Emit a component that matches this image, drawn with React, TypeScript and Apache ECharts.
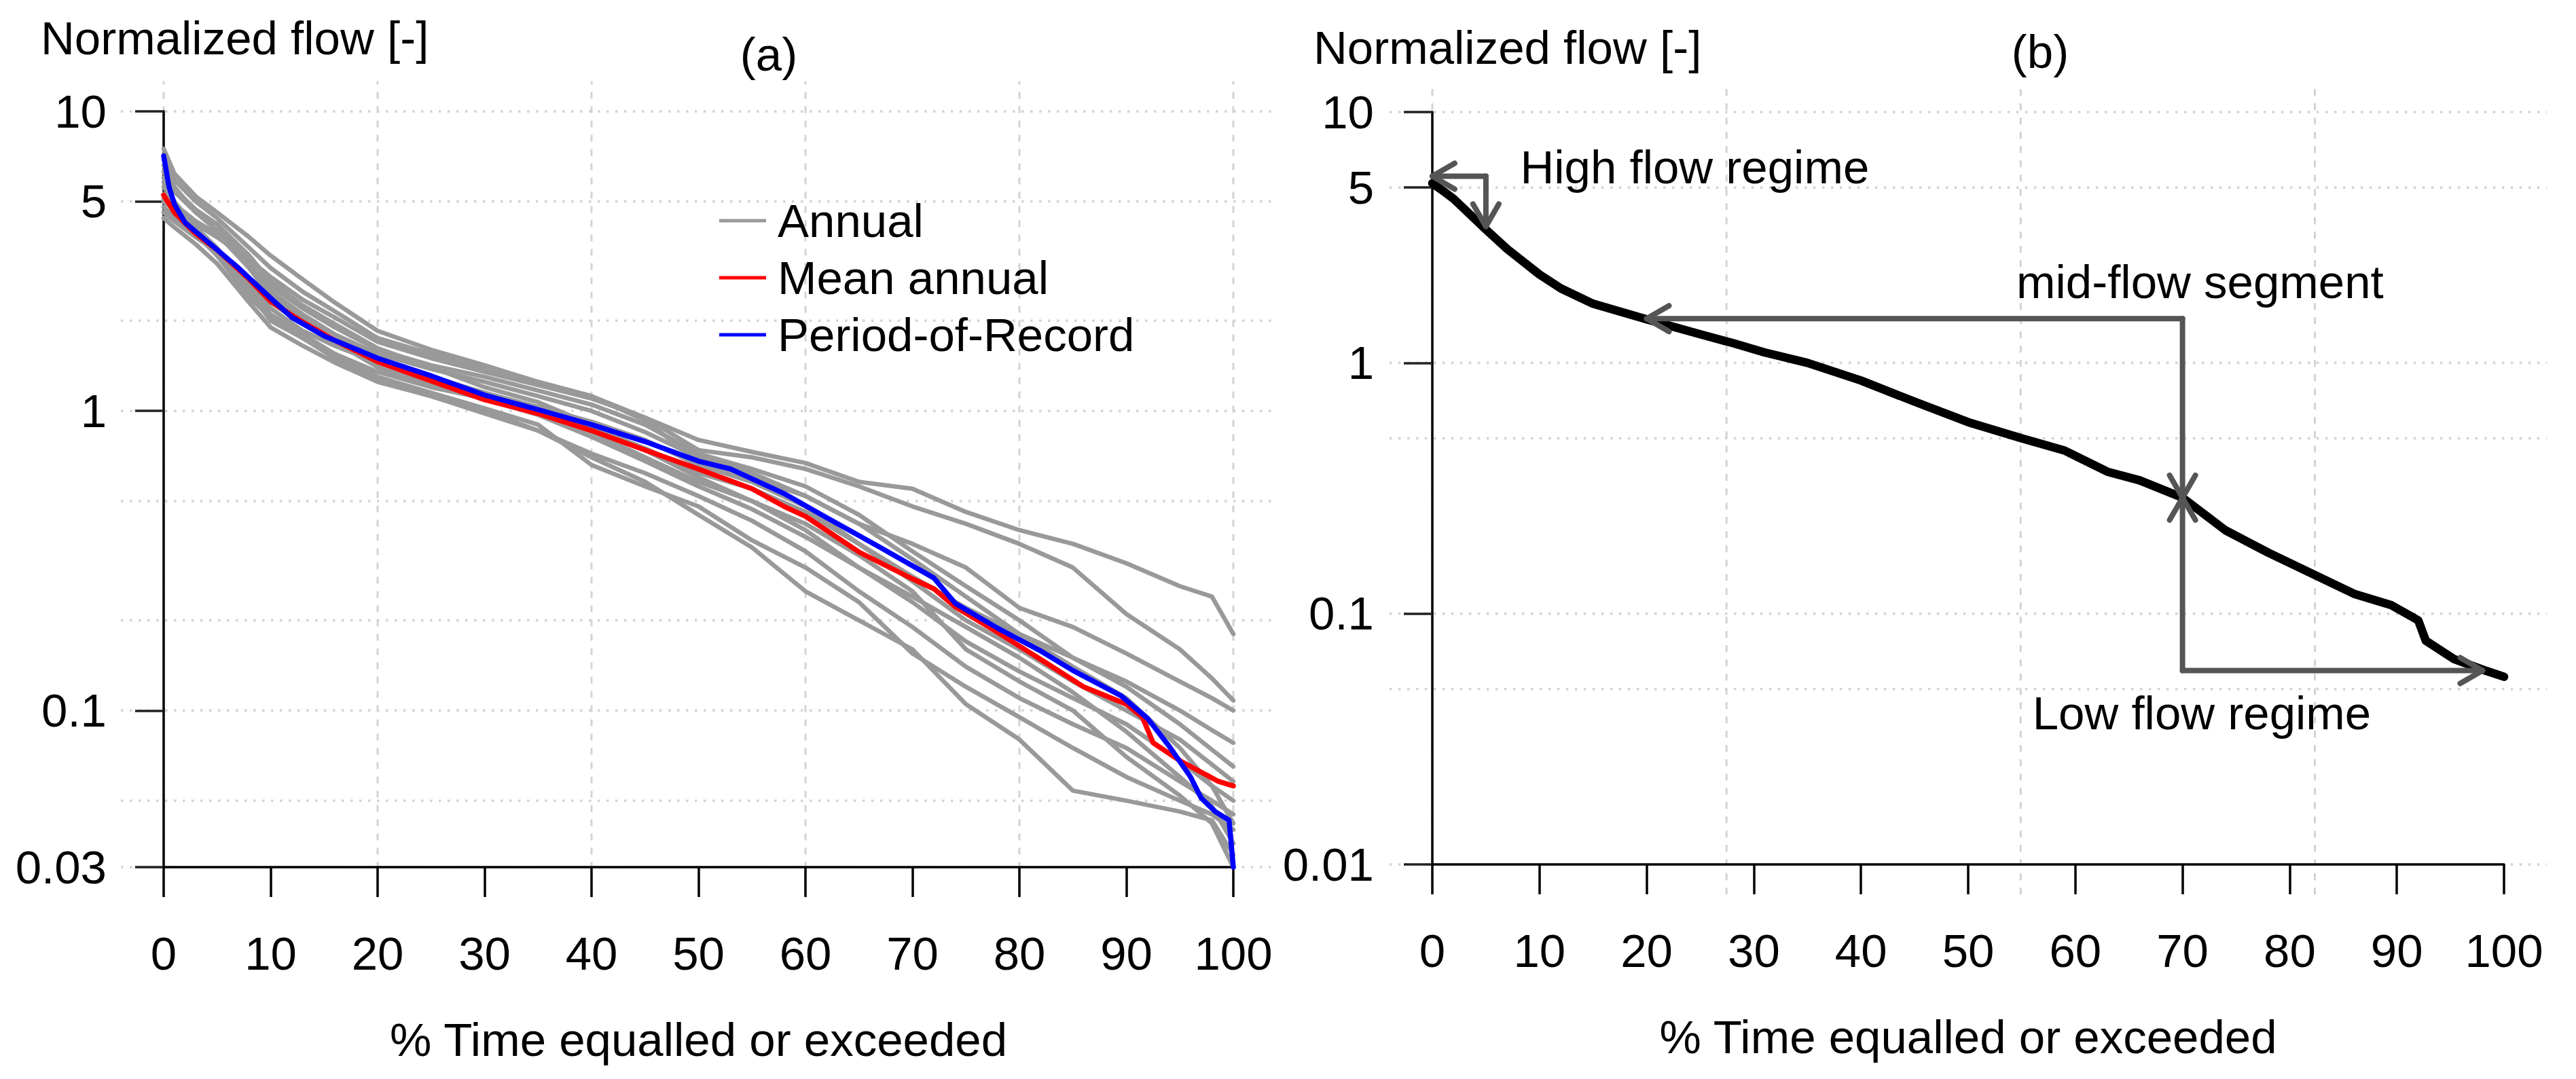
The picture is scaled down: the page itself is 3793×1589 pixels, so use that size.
import React, { useEffect, useRef } from "react";
import * as echarts from "echarts";

const W = 3793;
const H = 1589;
const FONT = "'Liberation Sans', Arial, Helvetica, sans-serif";
const FS = 69;

// ---------- Panel (a): annual flow duration curves ----------
const ANNUAL_PCT = [0, 1, 3, 5, 8, 10, 13, 16, 20, 25, 30, 35, 40, 45, 50, 55, 60, 65, 70, 75, 80, 85, 90, 95, 98, 100];
const YEAR_01 = [5.0, 4.7, 4.2, 3.8, 3.2, 2.8, 2.35, 2.05, 1.7, 1.5, 1.35, 1.22, 1.1, 0.95, 0.8, 0.73, 0.67, 0.58, 0.55, 0.46, 0.4, 0.36, 0.31, 0.26, 0.24, 0.18];
const YEAR_02 = [7.5, 6.2, 5.2, 4.6, 3.8, 3.3, 2.75, 2.3, 1.85, 1.6, 1.42, 1.25, 1.12, 0.95, 0.74, 0.7, 0.64, 0.56, 0.48, 0.42, 0.36, 0.3, 0.21, 0.16, 0.128, 0.108];
const YEAR_03 = [6.6, 5.6, 4.6, 4.0, 3.0, 2.4, 2.05, 1.8, 1.55, 1.38, 1.25, 1.12, 1.0, 0.85, 0.7, 0.62, 0.52, 0.42, 0.36, 0.3, 0.22, 0.19, 0.155, 0.125, 0.11, 0.1];
const YEAR_04 = [5.6, 5.0, 4.1, 3.5, 2.5, 2.0, 1.75, 1.55, 1.35, 1.2, 1.1, 0.98, 0.88, 0.75, 0.62, 0.55, 0.46, 0.36, 0.28, 0.22, 0.18, 0.15, 0.125, 0.1, 0.086, 0.078];
const YEAR_05 = [6.0, 5.4, 4.6, 4.2, 3.1, 2.6, 2.2, 1.9, 1.6, 1.42, 1.3, 1.17, 1.05, 0.9, 0.72, 0.64, 0.56, 0.45, 0.34, 0.26, 0.2, 0.15, 0.12, 0.09, 0.074, 0.065];
const YEAR_06 = [4.8, 4.4, 3.9, 3.4, 2.6, 2.2, 1.85, 1.65, 1.45, 1.28, 1.15, 1.03, 0.92, 0.8, 0.66, 0.58, 0.48, 0.36, 0.27, 0.2, 0.16, 0.125, 0.1, 0.08, 0.066, 0.058];
const YEAR_07 = [5.3, 4.9, 4.3, 3.9, 3.0, 2.5, 2.1, 1.8, 1.5, 1.3, 1.15, 1.0, 0.85, 0.7, 0.58, 0.5, 0.4, 0.3, 0.23, 0.17, 0.135, 0.11, 0.09, 0.068, 0.056, 0.05];
const YEAR_08 = [4.4, 4.1, 3.6, 3.1, 2.3, 1.9, 1.65, 1.45, 1.25, 1.12, 1.0, 0.86, 0.72, 0.62, 0.52, 0.43, 0.34, 0.25, 0.19, 0.14, 0.11, 0.09, 0.075, 0.058, 0.05, 0.045];
const YEAR_09 = [6.9, 5.9, 5.0, 4.4, 3.5, 3.0, 2.5, 2.15, 1.75, 1.55, 1.38, 1.25, 1.12, 0.93, 0.68, 0.6, 0.52, 0.42, 0.32, 0.24, 0.18, 0.14, 0.11, 0.075, 0.056, 0.042];
const YEAR_10 = [5.8, 5.0, 4.0, 3.3, 2.5, 2.1, 1.8, 1.55, 1.3, 1.15, 1.02, 0.9, 0.66, 0.56, 0.48, 0.37, 0.3, 0.23, 0.155, 0.12, 0.095, 0.075, 0.06, 0.05, 0.045, 0.04];
const YEAR_11 = [4.6, 4.3, 3.8, 3.4, 2.7, 2.3, 1.95, 1.7, 1.4, 1.22, 1.1, 0.97, 0.82, 0.68, 0.56, 0.47, 0.38, 0.3, 0.24, 0.19, 0.15, 0.115, 0.085, 0.06, 0.048, 0.036];
const YEAR_12 = [5.1, 4.6, 3.9, 3.3, 2.4, 2.05, 1.75, 1.5, 1.28, 1.12, 0.98, 0.86, 0.7, 0.58, 0.45, 0.35, 0.25, 0.2, 0.16, 0.105, 0.08, 0.054, 0.05, 0.046, 0.043, 0.033];
const YEAR_13 = [6.3, 5.5, 4.7, 4.2, 3.3, 2.7, 2.25, 1.95, 1.62, 1.4, 1.2, 1.07, 0.9, 0.74, 0.6, 0.5, 0.42, 0.33, 0.25, 0.16, 0.125, 0.1, 0.07, 0.052, 0.042, 0.03];
const ANNUAL_YEARS = [YEAR_01, YEAR_02, YEAR_03, YEAR_04, YEAR_05, YEAR_06, YEAR_07, YEAR_08, YEAR_09, YEAR_10, YEAR_11, YEAR_12, YEAR_13];

const MEAN_PCT = [0, 1, 3, 5, 8, 10, 13, 16, 20, 25, 30, 35, 40, 45, 50, 55, 58, 60, 65, 70, 72, 74, 78, 82, 86, 90, 91.5, 92.5, 95, 98.6, 100];
const MEAN_FLOW = [5.25, 4.6, 3.9, 3.45, 2.75, 2.32, 1.98, 1.72, 1.46, 1.26, 1.09, 0.98, 0.86, 0.74, 0.64, 0.55, 0.48, 0.445, 0.338, 0.275, 0.255, 0.222, 0.182, 0.148, 0.12, 0.105, 0.095, 0.078, 0.068, 0.058, 0.056];

const POR_PCT = [0, 0.5, 1, 2, 4, 7, 10, 12, 15, 20, 25, 30, 35, 40, 45, 50, 53, 58, 62, 67, 72, 74, 78, 82, 85, 89.5, 92, 94, 96, 97, 98.3, 99.6, 100];
const POR_FLOW = [7.1, 5.6, 4.9, 4.25, 3.7, 3.0, 2.38, 2.05, 1.78, 1.5, 1.31, 1.13, 1.01, 0.9, 0.79, 0.68, 0.64, 0.53, 0.44, 0.35, 0.277, 0.228, 0.188, 0.158, 0.136, 0.112, 0.094, 0.076, 0.06, 0.051, 0.046, 0.043, 0.03];

// ---------- Panel (b): single flow duration curve ----------
const FDC_PCT = [0, 1, 2, 5, 7, 10, 12, 15, 20, 25, 28, 31, 35, 40, 45, 50, 55, 59, 63, 66, 70, 74, 78, 82, 86, 89.5, 92, 92.7, 95.3, 98.4, 100];
const FDC_FLOW = [5.2, 4.85, 4.5, 3.4, 2.84, 2.25, 1.98, 1.72, 1.49, 1.3, 1.2, 1.1, 1.0, 0.85, 0.7, 0.58, 0.5, 0.447, 0.368, 0.34, 0.29, 0.215, 0.175, 0.145, 0.12, 0.108, 0.094, 0.078, 0.066, 0.059, 0.056];

const ARROW_FROM_X = [5, 5, 70, 70, 70, 70];
const ARROW_FROM_Y = [5.55, 5.55, 1.5, 1.5, 0.0593, 0.0593];
const ARROW_TO_X = [0, 5, 20, 70, 70, 98];
const ARROW_TO_Y = [5.55, 3.5, 1.5, 0.29, 0.29, 0.0593];

const NOTE_TEXT = ["High flow regime", "mid-flow segment", "Low flow regime"];
const NOTE_X = [8.2, 54.5, 56.0];
const NOTE_Y = [6.03, 2.1, 0.04];

// ---------- axes / grid ----------
const X_TICK_STEP = 10;
const A_Y_TICKS = [0.03, 0.1, 1, 5, 10];
const B_Y_TICKS = [0.01, 0.1, 1, 5, 10];
const A_H_GRID = [0.03, 0.05, 0.1, 0.2, 0.5, 1, 2, 5, 10];
const A_V_GRID = [0, 20, 40, 60, 80, 100];
const B_H_GRID = [0.01, 0.05, 0.1, 0.5, 1, 5, 10];
const B_V_GRID = [0, 27.45, 54.9, 82.35];

const LEGEND_NAMES = ["Annual", "Mean annual", "Period-of-Record"];

const PANEL_A = { left: 241, right: 1816, top: 164, bottom: 1277, yMin: 0.03, yMax: 10 };
const PANEL_B = { left: 2109, right: 3687, top: 165, bottom: 1273, yMin: 0.01, yMax: 10 };

function bgBox(p: any) {
  const w = p.right - p.left;
  const h = p.bottom - p.top;
  const lr = Math.log10(p.yMax / p.yMin) * 0.04;
  return {
    left: p.left - 0.04 * w,
    top: p.top - 0.04 * h,
    width: w * 1.08,
    height: h * 1.08,
    xMin: -4,
    xMax: 104,
    yMin: p.yMin / Math.pow(10, lr),
    yMax: p.yMax * Math.pow(10, lr),
  };
}

const txt = { fontSize: FS, fontFamily: FONT, color: "#000" };

function buildOption() {
  const bgA = bgBox(PANEL_A);
  const bgB = bgBox(PANEL_B);

  const gridOf = (b: any) => ({ left: b.left, top: b.top, width: b.width, height: b.height, containLabel: false, outerBoundsMode: "none" });
  const dataGrid = (p: any) => ({ left: p.left, top: p.top, width: p.right - p.left, height: p.bottom - p.top, containLabel: false, outerBoundsMode: "none" });

  const hiddenX = (gi: number, b: any) => ({ type: "value", gridIndex: gi, min: b.xMin, max: b.xMax, show: false });
  const hiddenY = (gi: number, b: any) => ({ type: "log", logBase: 10, gridIndex: gi, min: b.yMin, max: b.yMax, show: false });

  const dataX = (gi: number) => ({
    type: "value",
    gridIndex: gi,
    min: 0,
    max: 100,
    interval: X_TICK_STEP,
    position: "bottom",
    z: 3,
    axisLine: { show: true, onZero: false, lineStyle: { color: "#000", width: 3.5 } },
    axisTick: { show: true, inside: false, length: 44, lineStyle: { color: "#000", width: 3.5 } },
    axisLabel: { show: true, margin: 93, lineHeight: FS, showMinLabel: true, showMaxLabel: true, ...txt },
    splitLine: { show: false },
    name: "% Time equalled or exceeded",
    nameLocation: "middle",
    nameGap: 220,
    nameTextStyle: { ...txt, lineHeight: FS },
  });

  const fmt = (v: any) => String(Number(Number(v).toPrecision(3)));
  const dataY = (gi: number, p: any, ticks: number[], margin: number) => ({
    type: "log",
    logBase: 10,
    gridIndex: gi,
    min: p.yMin,
    max: p.yMax,
    position: "left",
    z: 3,
    axisLine: { show: true, onZero: false, lineStyle: { color: "#000", width: 3.5 } },
    axisTick: { show: true, inside: false, length: 42, customValues: ticks, lineStyle: { color: "#222", width: 3.5 } },
    axisLabel: { show: true, margin, customValues: ticks, formatter: fmt, ...txt },
    splitLine: { show: false },
    minorTick: { show: false },
    minorSplitLine: { show: false },
  });

  const hLines = (vals: number[], idx: number, b: any) =>
    vals.map((v) => ({
      type: "line",
      xAxisIndex: idx,
      yAxisIndex: idx,
      data: [[b.xMin, v], [b.xMax, v]],
      symbol: "none",
      silent: true,
      z: 1,
      lineStyle: { color: "#d3d3d3", width: 3.5, type: [3.5, 9.5] },
    }));
  const vLines = (vals: number[], idx: number, b: any) =>
    vals.map((v) => ({
      type: "line",
      xAxisIndex: idx,
      yAxisIndex: idx,
      data: [[v, b.yMin], [v, b.yMax]],
      symbol: "none",
      silent: true,
      z: 1,
      lineStyle: { color: "#d3d3d3", width: 3, type: [10, 11] },
    }));

  const curve = (name: string, xs: number[], ys: number[], color: string, width: number, idx: number, z: number) => ({
    type: "line",
    name,
    xAxisIndex: idx,
    yAxisIndex: idx,
    data: xs.map((x, i) => [x, ys[i]]),
    symbol: "none",
    showSymbol: false,
    silent: true,
    clip: false,
    z,
    itemStyle: { color },
    lineStyle: { color, width, join: "round", cap: "round" },
    emphasis: { disabled: true },
  });

  const series: any[] = [
    ...hLines(A_H_GRID, 0, bgA),
    ...vLines(A_V_GRID, 0, bgA),
    ...hLines(B_H_GRID, 2, bgB),
    ...vLines(B_V_GRID, 2, bgB),
    ...ANNUAL_YEARS.map((ys) => curve(LEGEND_NAMES[0], ANNUAL_PCT, ys, "#999999", 6.5, 1, 4)),
    curve(LEGEND_NAMES[1], MEAN_PCT, MEAN_FLOW, "#ff0000", 7.5, 1, 5),
    curve(LEGEND_NAMES[2], POR_PCT, POR_FLOW, "#0000ff", 7.5, 1, 6),
    curve("FDC", FDC_PCT, FDC_FLOW, "#000000", 12.5, 3, 5),
    {
      type: "custom",
      xAxisIndex: 3,
      yAxisIndex: 3,
      silent: true,
      clip: false,
      z: 7,
      data: ARROW_FROM_X.map((x, i) => [x, ARROW_FROM_Y[i], ARROW_TO_X[i], ARROW_TO_Y[i]]),
      encode: { x: [0, 2], y: [1, 3] },
      renderItem: (params: any, api: any) => {
        const a = api.coord([api.value(0), api.value(1)]);
        const b = api.coord([api.value(2), api.value(3)]);
        const dx = b[0] - a[0];
        const dy = b[1] - a[1];
        const len = Math.hypot(dx, dy) || 1;
        const ux = dx / len;
        const uy = dy / len;
        const L = 38;
        const rot = (t: number) => [ux * Math.cos(t) - uy * Math.sin(t), ux * Math.sin(t) + uy * Math.cos(t)];
        const r1 = rot(Math.PI / 6);
        const r2 = rot(-Math.PI / 6);
        const h1 = [b[0] - L * r1[0], b[1] - L * r1[1]];
        const h2 = [b[0] - L * r2[0], b[1] - L * r2[1]];
        const style = { stroke: "#555555", lineWidth: 8, fill: "none", lineCap: "round", lineJoin: "round" };
        return {
          type: "group",
          children: [
            { type: "line", shape: { x1: a[0], y1: a[1], x2: b[0], y2: b[1] }, style },
            { type: "polyline", shape: { points: [h1, b, h2] }, style },
          ],
        };
      },
    },
    {
      type: "custom",
      xAxisIndex: 3,
      yAxisIndex: 3,
      silent: true,
      clip: false,
      z: 8,
      data: NOTE_X.map((x, i) => [x, NOTE_Y[i]]),
      encode: { x: 0, y: 1 },
      renderItem: (params: any, api: any) => {
        const p = api.coord([api.value(0), api.value(1)]);
        return {
          type: "text",
          x: p[0],
          y: p[1],
          style: {
            text: NOTE_TEXT[params.dataIndex],
            fontSize: FS,
            fontFamily: FONT,
            fill: "#000",
            align: "left",
            verticalAlign: "middle",
          },
        };
      },
    },
  ];

  const gText = (text: string, x: number, y: number, align: string) => ({
    type: "text",
    x,
    y,
    silent: true,
    style: { text, fontSize: FS, fontFamily: FONT, fill: "#000", align, verticalAlign: "middle" },
  });

  return {
    animation: false,
    backgroundColor: "#ffffff",
    textStyle: { fontFamily: FONT },
    grid: [gridOf(bgA), dataGrid(PANEL_A), gridOf(bgB), dataGrid(PANEL_B)],
    xAxis: [hiddenX(0, bgA), dataX(1), hiddenX(2, bgB), dataX(3)],
    yAxis: [hiddenY(0, bgA), dataY(1, PANEL_A, A_Y_TICKS, 84), hiddenY(2, bgB), dataY(3, PANEL_B, B_Y_TICKS, 86)],
    legend: {
      data: LEGEND_NAMES,
      orient: "vertical",
      left: 1054,
      top: 285,
      itemWidth: 69,
      itemHeight: 5,
      itemGap: 14,
      icon: "rect",
      selectedMode: false,
      textStyle: { ...txt, lineHeight: 70, padding: [0, 0, 0, 12] },
    },
    graphic: [
      gText("Normalized flow [-]", 60, 56, "left"),
      gText("(a)", 1132, 80, "center"),
      gText("Normalized flow [-]", 1934, 70, "left"),
      gText("(b)", 3004, 76, "center"),
    ],
    series,
  };
}

export default function App() {
  const ref = useRef<HTMLDivElement>(null);
  useEffect(() => {
    if (!ref.current) return;
    const chart = echarts.init(ref.current, null, { renderer: "svg", width: W, height: H });
    chart.setOption(buildOption() as any);
    return () => chart.dispose();
  }, []);
  return (
    <div
      ref={ref}
      style={{ position: "absolute", left: 0, top: 0, width: W, height: H, overflow: "hidden", background: "#fff" }}
    />
  );
}
